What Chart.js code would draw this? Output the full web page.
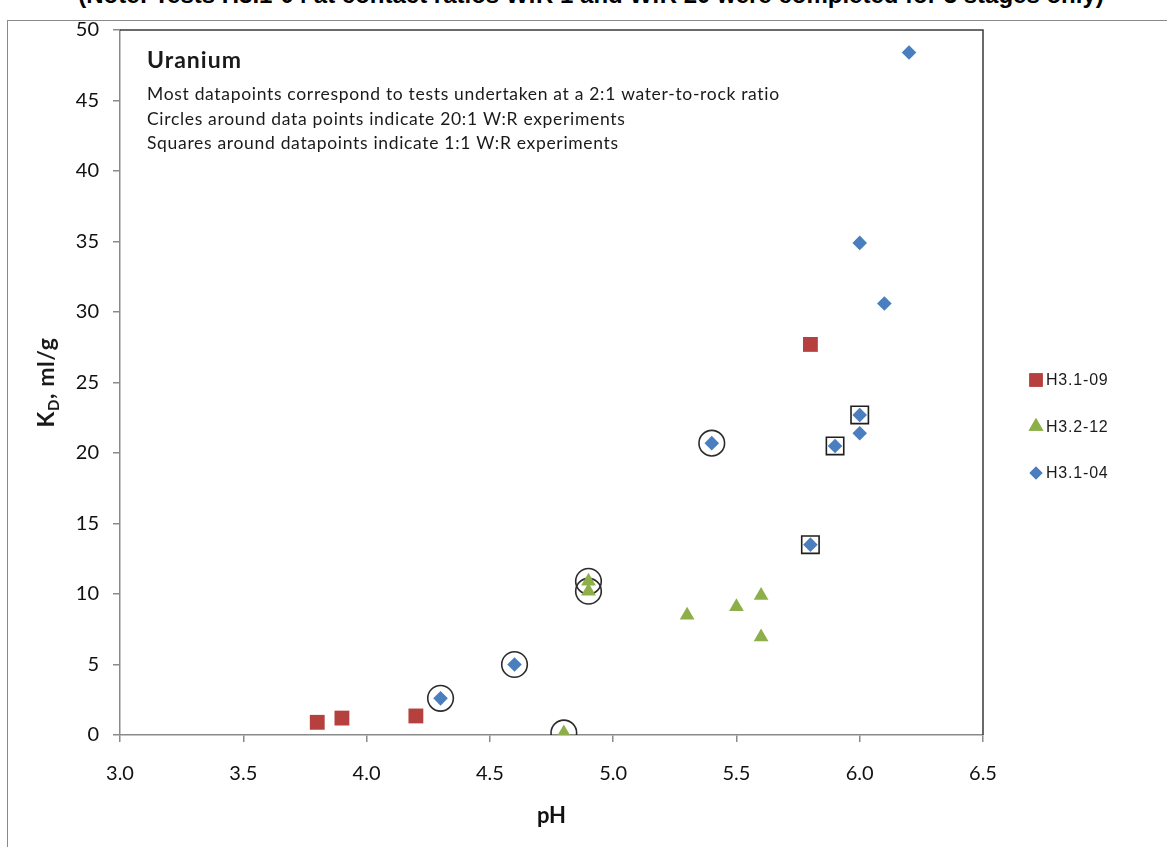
<!DOCTYPE html>
<html>
<head>
<meta charset="utf-8">
<script src="https://cdn.jsdelivr.net/npm/chart.js@4/dist/chart.umd.min.js"></script>
<style>
  html, body { margin: 0; padding: 0; background: #fff; overflow: hidden; }
  #wrap { position: relative; width: 1167px; height: 847px; }
  #note {
    position: absolute; left: 0; width: 1182px; top: -19px; line-height: 24px;
    text-align: center; font: bold 24px "Liberation Sans", Arial, sans-serif; color: #000;
    white-space: nowrap;
  }
  #frame {
    position: absolute; left: 7px; top: 20px; width: 1300px; height: 900px;
    border-left: 1px solid #8a8a8a; border-top: 1px solid #8a8a8a;
  }
  canvas { position: absolute; left: 0; top: 0; }
</style>
</head>
<body>
<div id="wrap">
  <div id="note">(Note: Tests H3.1-04 at contact ratios W:R 1 and W:R 20 were completed for 3 stages only)</div>
  <div id="frame"></div>
  <canvas id="c" width="1167" height="847"></canvas>
</div>
<script>
// pH and distribution coefficient (Kd, ml/g) for each test series
const phH3109 = [3.8, 3.9, 4.2, 5.8];
const kdH3109 = [0.9, 1.2, 1.35, 27.7];

const phH3212 = [4.8, 4.9, 4.9, 5.3, 5.5, 5.6, 5.6];
const kdH3212 = [0.15, 10.9, 10.2, 8.5, 9.1, 9.9, 6.95];

const phH3104 = [4.3, 4.6, 5.4, 5.8, 5.9, 6.0, 6.0, 6.1, 6.0, 6.2];
const kdH3104 = [2.6, 5.0, 20.7, 13.5, 20.5, 22.7, 21.4, 30.6, 34.9, 48.4];

// 20:1 W:R experiments (circled) and 1:1 W:R experiments (boxed)
const phCircled = [4.3, 4.6, 4.8, 4.9, 4.9, 5.4];
const kdCircled = [2.6, 5.0, 0.15, 10.9, 10.2, 20.7];
const phBoxed = [5.8, 5.9, 6.0];
const kdBoxed = [13.5, 20.5, 22.7];

const xTicks = [3.0, 3.5, 4.0, 4.5, 5.0, 5.5, 6.0, 6.5];
const yTicks = [0, 5, 10, 15, 20, 25, 30, 35, 40, 45, 50];

const noteLines = [
  'Most datapoints correspond to tests undertaken at a 2:1 water-to-rock ratio',
  'Circles around data points indicate 20:1 W:R experiments',
  'Squares around datapoints indicate 1:1 W:R experiments'
];

const pts = (xs, ys) => xs.map((x, i) => ({ x: x, y: ys[i] }));

const RED = '#B5403D', GREEN = '#8DAF4A', BLUE = '#4A7EBF';
const TEXTFONT = 'Lato, "Open Sans", sans-serif';

// letter spacing that makes `text` span `width` in the current font
function spacingFor(ctx, text, width) {
  ctx.letterSpacing = '0px';
  const w = ctx.measureText(text).width;
  return Math.max(0, (width - w) / text.length).toFixed(2) + 'px';
}

// Plot frame (top/right), annotation text, y title with subscript, and legend
const decorations = {
  id: 'decorations',
  beforeDatasetsDraw(chart) {
    const { ctx, chartArea: a } = chart;
    ctx.save();
    ctx.strokeStyle = '#3a3a3a';
    ctx.lineWidth = 1.5;
    ctx.beginPath();
    ctx.moveTo(a.left, a.top);
    ctx.lineTo(a.right, a.top);
    ctx.lineTo(a.right, a.bottom);
    ctx.stroke();
    ctx.restore();
  },
  afterDraw(chart) {
    const { ctx, chartArea: a } = chart;
    ctx.save();
    ctx.fillStyle = '#1a1a1a';
    ctx.textBaseline = 'alphabetic';
    ctx.textAlign = 'left';
    ctx.font = 'bold 23px ' + TEXTFONT;
    ctx.letterSpacing = spacingFor(ctx, 'Uranium', 95);
    ctx.fillText('Uranium', a.left + 27, a.top + 38);
    ctx.font = '17.5px ' + TEXTFONT;
    ctx.letterSpacing = spacingFor(ctx, noteLines[0], 633);
    noteLines.forEach((t, i) => ctx.fillText(t, a.left + 27, a.top + 70 + i * 24.5));
    ctx.letterSpacing = '0px';

    // y-axis title: K with subscript D
    ctx.translate(54, (a.top + a.bottom) / 2);
    ctx.rotate(-Math.PI / 2);
    ctx.letterSpacing = '0.6px';
    const big = 'bold 23px ' + TEXTFONT, small = 'bold 15px ' + TEXTFONT;
    ctx.font = big; const wK = ctx.measureText('K').width;
    const wRest = ctx.measureText(', ml/g').width;
    ctx.font = small; const wD = ctx.measureText('D').width;
    const x0 = -(wK + wD + wRest) / 2;
    ctx.font = big; ctx.fillText('K', x0, 0);
    ctx.font = small; ctx.fillText('D', x0 + wK, 5);
    ctx.font = big; ctx.fillText(', ml/g', x0 + wK + wD, 0);
    ctx.letterSpacing = '0px';
    ctx.restore();

    // legend
    ctx.save();
    const items = chart.data.datasets.filter(d => !d.overlay);
    items.forEach((d, i) => {
      const y = 380 + i * 46.5;
      ctx.fillStyle = d.backgroundColor;
      ctx.beginPath();
      Chart.helpers.drawPoint(ctx, {
        pointStyle: d.pointStyle, radius: d.legendRadius, rotation: 0, borderWidth: 0
      }, 1036, y);
      ctx.fill();
      ctx.fillStyle = '#1a1a1a';
      ctx.font = '16px "Liberation Sans", Arial, sans-serif';
      ctx.letterSpacing = '0.8px';
      ctx.textAlign = 'left';
      ctx.textBaseline = 'middle';
      ctx.fillText(d.label, 1046, y + 1);
    });
    ctx.letterSpacing = '0px';
    ctx.restore();
  }
};

new Chart(document.getElementById('c'), {
  type: 'scatter',
  data: {
    datasets: [
      { label: 'H3.1-09', data: pts(phH3109, kdH3109), pointStyle: 'rect', pointRadius: 10.5,
        backgroundColor: RED, borderColor: RED, borderWidth: 0, legendRadius: 9.5 },
      { label: 'H3.2-12', data: pts(phH3212, kdH3212), pointStyle: 'triangle', pointRadius: 8.5,
        backgroundColor: GREEN, borderColor: GREEN, borderWidth: 0, legendRadius: 8.5 },
      { label: 'H3.1-04', data: pts(phH3104, kdH3104), pointStyle: 'rectRot', pointRadius: 7.3,
        backgroundColor: BLUE, borderColor: BLUE, borderWidth: 0, legendRadius: 6.5 },
      { label: '20:1 W:R', overlay: true, data: pts(phCircled, kdCircled), pointStyle: 'circle',
        pointRadius: 12.8, backgroundColor: 'rgba(0,0,0,0)', borderColor: '#2b2b2b', borderWidth: 1.6 },
      { label: '1:1 W:R', overlay: true, data: pts(phBoxed, kdBoxed), pointStyle: 'rect',
        pointRadius: 12.3, backgroundColor: 'rgba(0,0,0,0)', borderColor: '#1f1f1f', borderWidth: 1.6 }
    ]
  },
  options: {
    responsive: false,
    animation: false,
    layout: { padding: { top: 30, right: 184, bottom: 0, left: 0 } },
    plugins: { legend: { display: false }, tooltip: { enabled: false } },
    elements: { point: { hoverRadius: 0 } },
    scales: {
      x: {
        type: 'linear', min: 3, max: 6.5,
        afterBuildTicks: s => { s.ticks = xTicks.map(v => ({ value: v })); },
        afterFit: s => { s.height = 112; },
        border: { color: '#8a8a8a', width: 1.5 },
        grid: { drawOnChartArea: false, color: '#8a8a8a', tickLength: 7, lineWidth: 1.5 },
        ticks: { padding: 20, color: '#111', font: { family: TEXTFONT, size: 20 },
                 callback: v => Number(v).toFixed(1) },
        title: { display: true, text: 'pH', color: '#111', padding: { top: 0, bottom: 18 },
                 font: { family: TEXTFONT, size: 22, weight: 'bold' } }
      },
      y: {
        type: 'linear', min: 0, max: 50,
        afterBuildTicks: s => { s.ticks = yTicks.map(v => ({ value: v })); },
        afterFit: s => { s.width = 120; },
        border: { color: '#8a8a8a', width: 1.5 },
        grid: { drawOnChartArea: false, color: '#8a8a8a', tickLength: 7, lineWidth: 1.5 },
        ticks: { padding: 14, color: '#111', font: { family: TEXTFONT, size: 20 } }
      }
    }
  },
  plugins: [decorations]
});
</script>
</body>
</html>
